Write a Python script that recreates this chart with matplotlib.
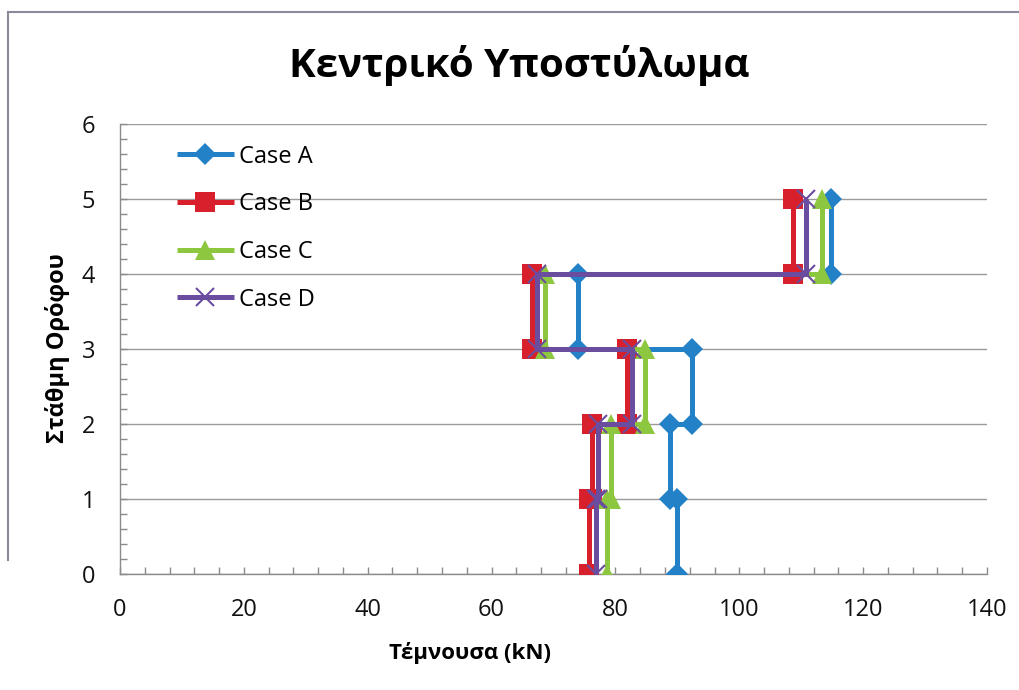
import matplotlib
matplotlib.use("Agg")
import matplotlib.pyplot as plt
from matplotlib.lines import Line2D
from matplotlib.ticker import MultipleLocator

plt.rcParams['font.family'] = ['Open Sans', 'DejaVu Sans']

# Storey levels and shear force per storey (kN) for each case
levels = [0, 1, 2, 3, 4, 5]
case_a = [90.0, 88.8, 92.4, 74.0, 114.8]
case_b = [75.8, 76.2, 81.9, 66.6, 108.7]
case_c = [78.6, 79.3, 84.8, 68.6, 113.3]
case_d = [76.9, 77.2, 82.6, 67.3, 110.8]

series_names = ["Case A", "Case B", "Case C", "Case D"]
colors = ["#2381C8", "#D7202B", "#8DC63F", "#6B4DA0"]
markers = ["D", "s", "^", "x"]
msizes = [11, 14, 14, 13]

x_ticks = [0, 20, 40, 60, 80, 100, 120, 140]
y_ticks = [0, 1, 2, 3, 4, 5, 6]


def step_path(shears, levels):
    # each storey shear is constant between its lower and upper level
    xs, ys = [], []
    for i, v in enumerate(shears):
        xs += [v, v]
        ys += [levels[i], levels[i + 1]]
    return xs, ys


fig = plt.figure(figsize=(10.19, 6.9), dpi=100)
ax = fig.add_axes([120 / 1019, 1 - 574 / 690, (987 - 120) / 1019, (574 - 124) / 690])

data = [case_a, case_b, case_c, case_d]
for vals, name, c, m, ms in zip(data, series_names, colors, markers, msizes):
    xs, ys = step_path(vals, levels)
    mew = 1.5 if m == "x" else 0
    ax.plot(xs, ys, color=c, lw=3.6, marker=m, ms=ms, mec=c, mfc=c,
            mew=mew, label=name, solid_capstyle='butt', zorder=3)

ax.set_xlim(0, 140)
ax.set_ylim(0, 6)
ax.set_xticks(x_ticks)
ax.set_yticks(y_ticks)
ax.xaxis.set_minor_locator(MultipleLocator(4))
ax.yaxis.set_minor_locator(MultipleLocator(0.2))
ax.tick_params(which='both', direction='in', length=5, color='#8a8a8a', width=1)
ax.tick_params(axis='x', labelsize=17, pad=17, labelcolor='#111111')
ax.tick_params(axis='y', labelsize=17, pad=18, labelcolor='#111111')

ax.grid(axis='y', color='#9a9a9a', lw=1)
ax.set_axisbelow(True)
for s in ['top', 'right']:
    ax.spines[s].set_visible(False)
for s in ['left', 'bottom']:
    ax.spines[s].set_color('#8a8a8a')
    ax.spines[s].set_linewidth(1)

leg = ax.legend(loc='upper left', bbox_to_anchor=(0.055, 0.975), frameon=False,
                fontsize=17, handlelength=2.4, handletextpad=0.2,
                labelspacing=1.0, borderaxespad=0)

fig.text(0.51, 1 - 66 / 690, "Κεντρικό Υποστύλωμα", ha='center', va='center',
         fontsize=29, fontweight='bold')
fig.text(470 / 1019, 1 - 653 / 690, "Τέμνουσα (kN)", ha='center', va='center',
         fontsize=16, fontweight='bold')
fig.text(58 / 1019, 1 - 348 / 690, "Στάθμη Ορόφου", ha='center', va='center',
         rotation=90, fontsize=17, fontweight='bold')

# outer frame around the chart area
fig.add_artist(Line2D([8 / 1019, 1], [1 - 12 / 690, 1 - 12 / 690],
                      transform=fig.transFigure, color='#8a8a9a', lw=1.5))
fig.add_artist(Line2D([8 / 1019, 8 / 1019], [1 - 12 / 690, 1 - 560 / 690],
                      transform=fig.transFigure, color='#8a8a9a', lw=1.5))

fig.savefig("out.png", dpi=100)
